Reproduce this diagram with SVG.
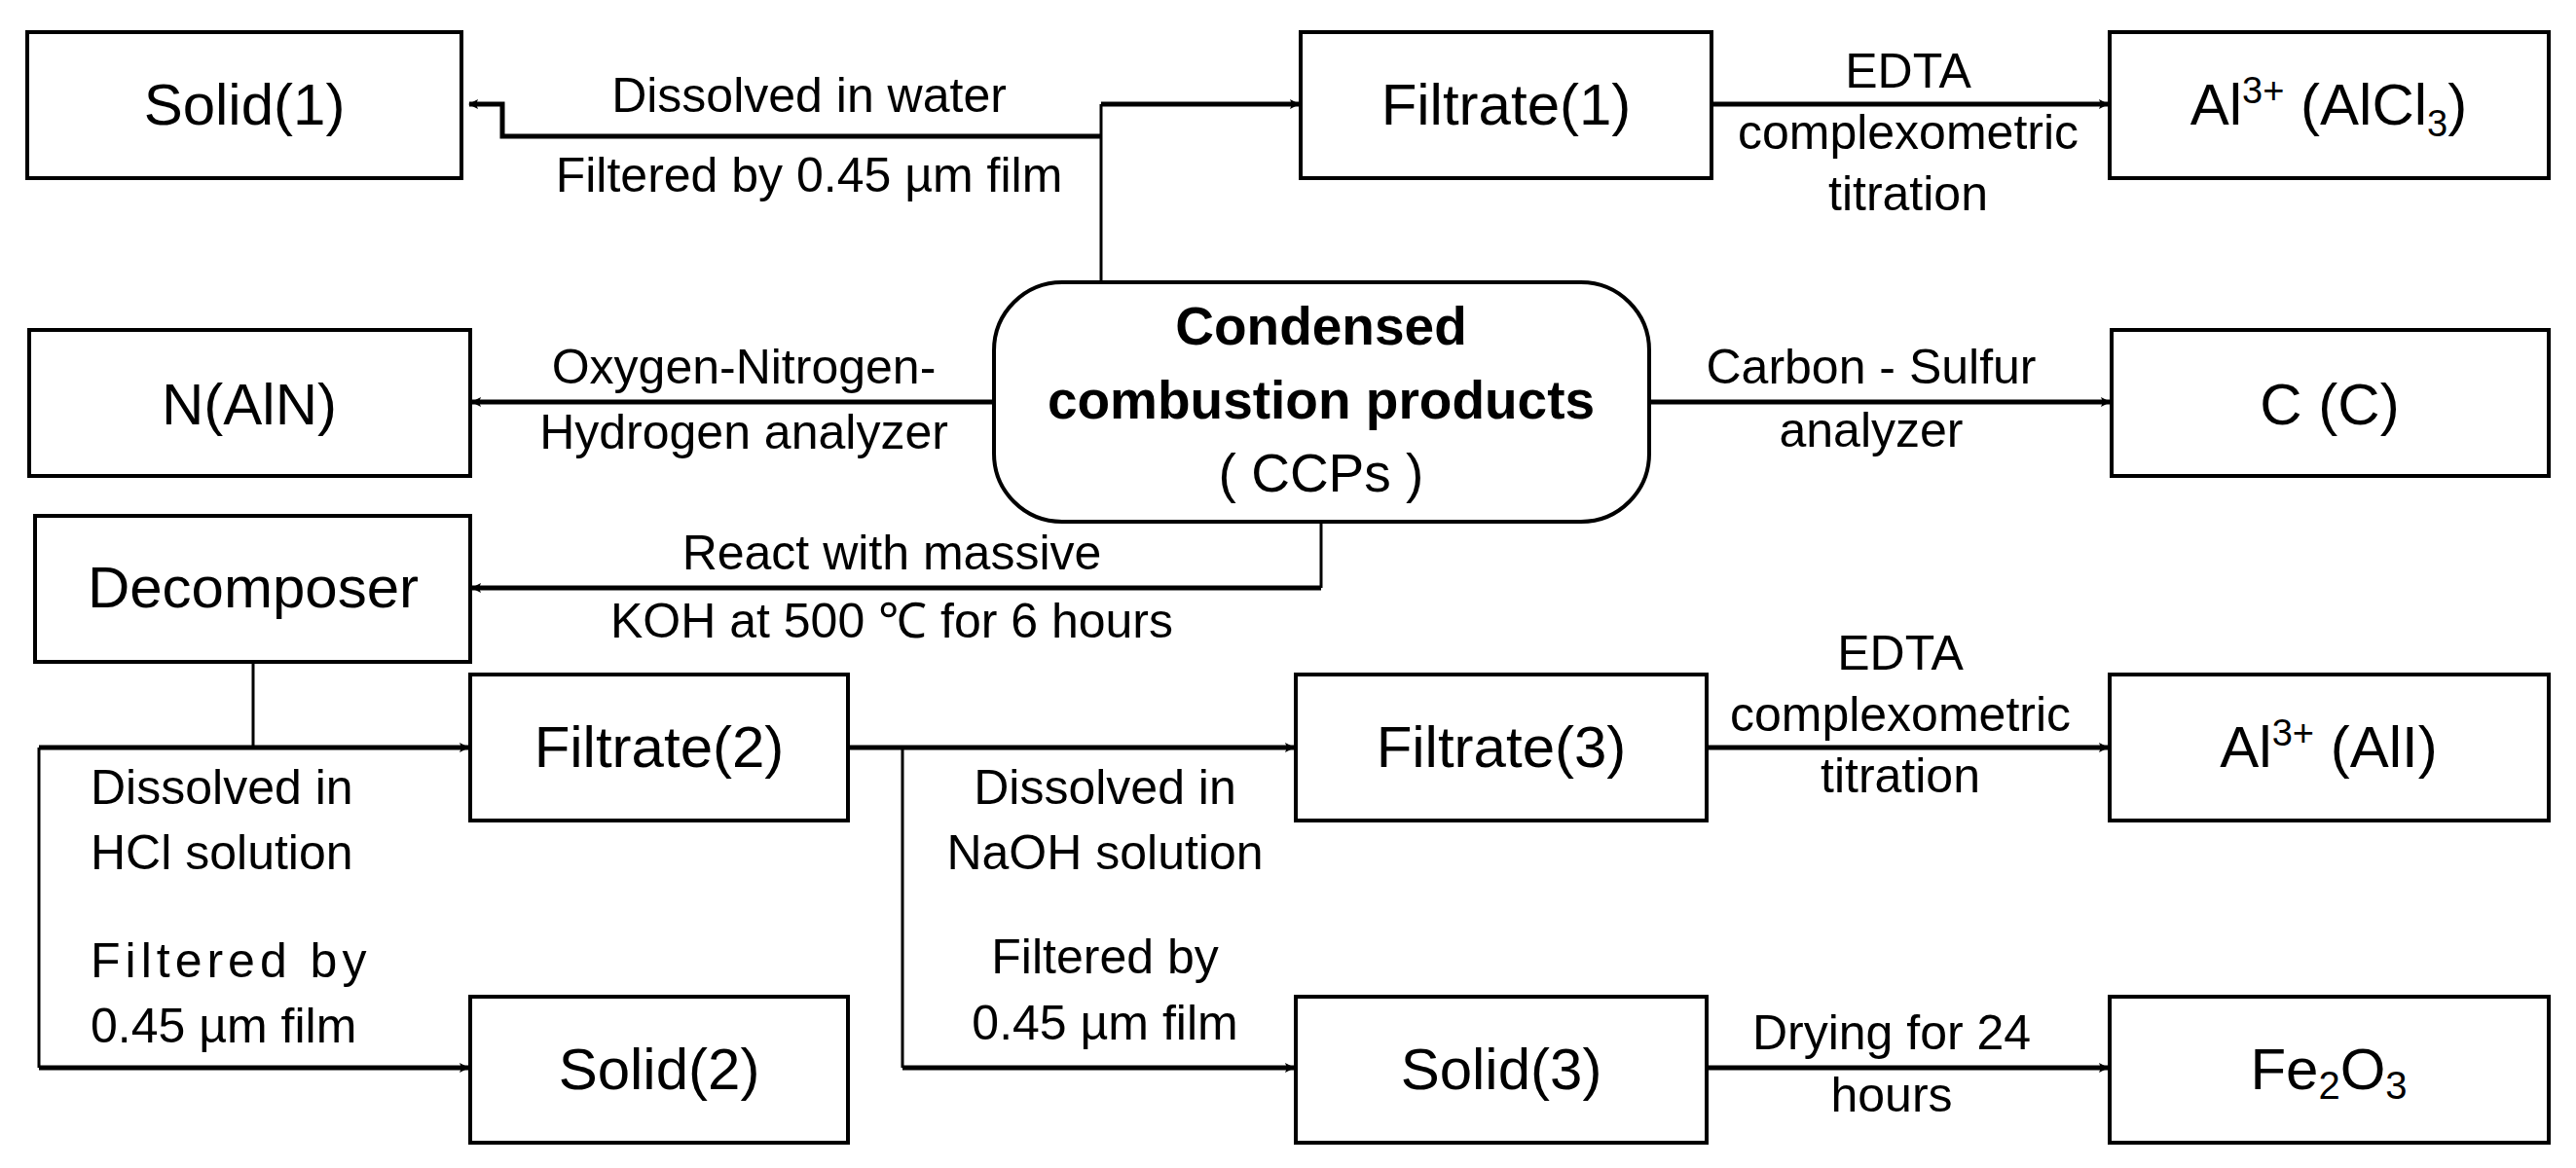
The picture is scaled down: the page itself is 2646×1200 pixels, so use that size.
<svg xmlns="http://www.w3.org/2000/svg" width="2646" height="1200" viewBox="0 0 2646 1200">
<style>
.b{fill:#fff;stroke:#000;stroke-width:4}
.n{font-family:"Liberation Sans",Arial,sans-serif;font-size:60px;text-anchor:middle;fill:#000}
.l{font-family:"Liberation Sans",Arial,sans-serif;font-size:50px;text-anchor:middle;fill:#000}
.ll{font-family:"Liberation Sans",Arial,sans-serif;font-size:50px;fill:#000}
.c{fill:none;stroke:#000;stroke-width:5}
.t{fill:none;stroke:#000;stroke-width:3}
</style>
<defs>
<marker id="a" markerWidth="10" markerHeight="10" refX="9" refY="5" orient="auto" markerUnits="userSpaceOnUse" viewBox="0 0 10 10"><path d="M0,0 L10,5 L0,10 L2,5 Z" fill="#000"/></marker>
</defs>
<rect width="2646" height="1200" fill="#fff"/>
<g id="connectors">
<path class="c" d="M1131,140 H516 V107 H482" marker-end="url(#a)" style="stroke-width:5"/>
<path class="t" d="M1131,290 V107"/>
<path class="c" d="M1131,107 H1334" marker-end="url(#a)"/>
<path class="c" d="M1758,107 H2165" marker-end="url(#a)"/>
<path class="c" d="M1021,413 H485" marker-end="url(#a)"/>
<path class="c" d="M1694,413 H2167" marker-end="url(#a)"/>
<path class="t" d="M1357,536 V604"/>
<path class="c" d="M1357,604 H485" marker-end="url(#a)"/>
<path class="t" d="M260,680 V768"/>
<path class="c" d="M40,768 H481" marker-end="url(#a)"/>
<path class="t" d="M40,768 V1097"/>
<path class="c" d="M40,1097 H481" marker-end="url(#a)"/>
<path class="c" d="M871,768 H1329" marker-end="url(#a)"/>
<path class="t" d="M927,768 V1097"/>
<path class="c" d="M927,1097 H1329" marker-end="url(#a)"/>
<path class="c" d="M1753,768 H2165" marker-end="url(#a)"/>
<path class="c" d="M1753,1097 H2165" marker-end="url(#a)"/>
</g>
<g id="labels">
<text class="l" x="831" y="115">Dissolved in water</text>
<text class="l" x="831" y="197">Filtered by 0.45 µm film</text>
<text class="l" x="1960" y="90">EDTA</text>
<text class="l" x="1960" y="153">complexometric</text>
<text class="l" x="1960" y="216">titration</text>
<text class="l" x="764" y="394">Oxygen-Nitrogen-</text>
<text class="l" x="764" y="461">Hydrogen analyzer</text>
<text class="l" x="1922" y="394">Carbon - Sulfur</text>
<text class="l" x="1922" y="459">analyzer</text>
<text class="l" x="916" y="585">React with massive</text>
<text class="l" x="916" y="655">KOH at 500 ℃  for 6 hours</text>
<text class="ll" x="93" y="826">Dissolved in</text>
<text class="ll" x="93" y="893">HCl solution</text>
<text class="ll" x="93" y="1004" letter-spacing="5">Filtered  by</text>
<text class="ll" x="93" y="1071">0.45 µm film</text>
<text class="l" x="1135" y="826">Dissolved in</text>
<text class="l" x="1135" y="893">NaOH solution</text>
<text class="l" x="1135" y="1000">Filtered by</text>
<text class="l" x="1135" y="1068">0.45 µm film</text>
<text class="l" x="1952" y="688">EDTA</text>
<text class="l" x="1952" y="751">complexometric</text>
<text class="l" x="1952" y="814">titration</text>
<text class="l" x="1943" y="1078">Drying for 24</text>
<text class="l" x="1943" y="1142">hours</text>
</g>
<g id="solid1"><rect class="b" x="28" y="33" width="446" height="150"/><text class="n" x="251" y="128">Solid(1)</text></g>
<g id="filtrate1"><rect class="b" x="1336" y="33" width="422" height="150"/><text class="n" x="1547" y="128">Filtrate(1)</text></g>
<g id="al-alcl3"><rect class="b" x="2167" y="33" width="451" height="150"/><text class="n" x="2392" y="128">Al<tspan font-size="38" dy="-22">3+</tspan><tspan dy="22"> (AlCl</tspan><tspan font-size="38" dy="12">3</tspan><tspan dy="-12">)</tspan></text></g>
<g id="ccp"><rect class="b" x="1021" y="290" width="673" height="246" rx="70"/>
<text class="n" style="font-weight:bold;font-size:55px" x="1357" y="354">Condensed</text>
<text class="n" style="font-weight:bold;font-size:55px" x="1357" y="430">combustion products</text>
<text class="n" style="font-size:55px" x="1357" y="505">( CCPs )</text></g>
<g id="naln"><rect class="b" x="30" y="339" width="453" height="150"/><text class="n" x="256" y="436">N(AlN)</text></g>
<g id="cc"><rect class="b" x="2169" y="339" width="449" height="150"/><text class="n" x="2393" y="436">C (C)</text></g>
<g id="decomposer"><rect class="b" x="36" y="530" width="447" height="150"/><text class="n" x="260" y="624">Decomposer</text></g>
<g id="filtrate2"><rect class="b" x="483" y="693" width="388" height="150"/><text class="n" x="677" y="788">Filtrate(2)</text></g>
<g id="filtrate3"><rect class="b" x="1331" y="693" width="422" height="150"/><text class="n" x="1542" y="788">Filtrate(3)</text></g>
<g id="al-all"><rect class="b" x="2167" y="693" width="451" height="150"/><text class="n" x="2392" y="788">Al<tspan font-size="38" dy="-22">3+</tspan><tspan dy="22"> (AlI)</tspan></text></g>
<g id="solid2"><rect class="b" x="483" y="1024" width="388" height="150"/><text class="n" x="677" y="1119">Solid(2)</text></g>
<g id="solid3"><rect class="b" x="1331" y="1024" width="422" height="150"/><text class="n" x="1542" y="1119">Solid(3)</text></g>
<g id="fe2o3"><rect class="b" x="2167" y="1024" width="451" height="150"/><text class="n" x="2392" y="1119">Fe<tspan font-size="40" dy="10">2</tspan><tspan dy="-10">O</tspan><tspan font-size="40" dy="10">3</tspan></text></g>
</svg>
